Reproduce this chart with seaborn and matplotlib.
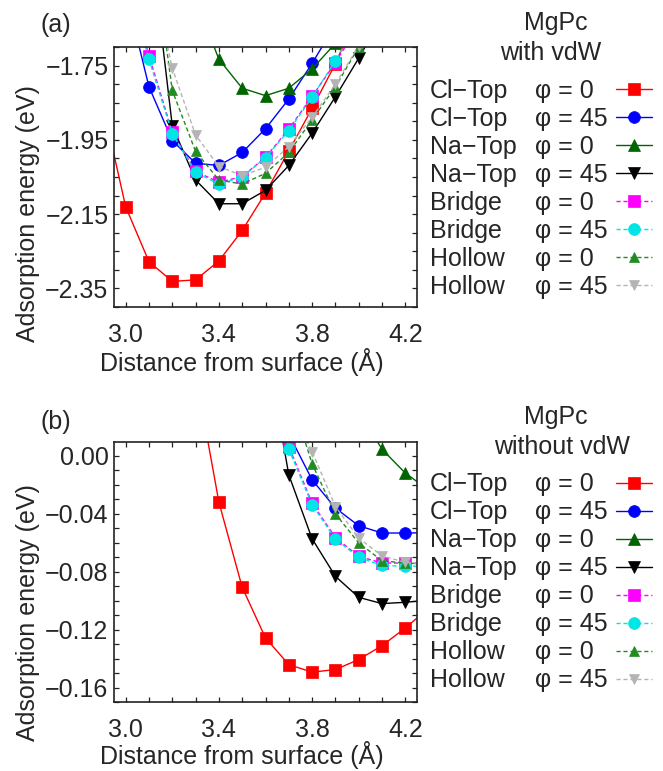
import numpy as np
import pandas as pd
import matplotlib
matplotlib.use("Agg")
import matplotlib.pyplot as plt
import seaborn as sns
from matplotlib.ticker import MultipleLocator, FuncFormatter
from matplotlib.lines import Line2D

sns.set_style("ticks")
plt.rcParams['font.family'] = ['Liberation Sans', 'DejaVu Sans']
plt.rcParams['axes.unicode_minus'] = True

# ---------------- data ----------------
sites = ["Cl\u2212Top", "Cl\u2212Top", "Na\u2212Top", "Na\u2212Top",
         "Bridge", "Bridge", "Hollow", "Hollow"]
phis = ["\u03c6 = 0", "\u03c6 = 45", "\u03c6 = 0", "\u03c6 = 45",
        "\u03c6 = 0", "\u03c6 = 45", "\u03c6 = 0", "\u03c6 = 45"]
x_ticks = [3.0, 3.4, 3.8, 4.2]
a_yticks = [-2.35, -2.15, -1.95, -1.75]
b_yticks = [-0.16, -0.12, -0.08, -0.04, 0.00]

# (a) with vdW
a_cltop0_x = [2.9, 3.0, 3.1, 3.2, 3.3, 3.4, 3.5, 3.6, 3.7, 3.8, 3.9, 4.0]
a_cltop0_y = [-1.85, -2.13, -2.278, -2.331, -2.327, -2.276, -2.194, -2.093, -1.980, -1.865, -1.745, -1.60]
a_cltop45_x = [3.0, 3.1, 3.2, 3.3, 3.4, 3.5, 3.6, 3.7, 3.8, 3.9]
a_cltop45_y = [-1.55, -1.807, -1.952, -2.013, -2.019, -1.984, -1.920, -1.840, -1.744, -1.64]
a_natop0_x = [3.3, 3.4, 3.5, 3.6, 3.7, 3.8, 3.9]
a_natop0_y = [-1.57, -1.733, -1.811, -1.831, -1.811, -1.759, -1.69]
a_natop45_x = [3.1, 3.2, 3.3, 3.4, 3.5, 3.6, 3.7, 3.8, 3.9, 4.0, 4.1]
a_natop45_y = [-1.38, -1.912, -2.058, -2.122, -2.122, -2.086, -2.019, -1.932, -1.834, -1.730, -1.62]
a_bridge0_x = [3.0, 3.1, 3.2, 3.3, 3.4, 3.5, 3.6, 3.7, 3.8, 3.9, 4.0]
a_bridge0_y = [-1.50, -1.723, -1.929, -2.035, -2.064, -2.049, -1.997, -1.921, -1.833, -1.742, -1.64]
a_bridge45_x = [3.0, 3.1, 3.2, 3.3, 3.4, 3.5, 3.6, 3.7, 3.8, 3.9, 4.0]
a_bridge45_y = [-1.51, -1.733, -1.934, -2.037, -2.069, -2.050, -1.998, -1.925, -1.835, -1.737, -1.63]
a_hollow0_x = [3.1, 3.2, 3.3, 3.4, 3.5, 3.6, 3.7, 3.8, 3.9, 4.0]
a_hollow0_y = [-1.35, -1.817, -1.981, -2.058, -2.069, -2.040, -1.984, -1.896, -1.807, -1.70]
a_hollow45_x = [3.1, 3.2, 3.3, 3.4, 3.5, 3.6, 3.7, 3.8, 3.9, 4.0]
a_hollow45_y = [-1.47, -1.757, -1.937, -2.022, -2.046, -2.024, -1.968, -1.889, -1.800, -1.697]

# (b) without vdW
b_cltop0_x = [3.3, 3.4, 3.5, 3.6, 3.7, 3.8, 3.9, 4.0, 4.1, 4.2, 4.3]
b_cltop0_y = [0.057, -0.0319, -0.0907, -0.1256, -0.144, -0.1492, -0.1474, -0.1405, -0.1309, -0.1187, -0.105]
b_cltop45_x = [3.7, 3.8, 3.9, 4.0, 4.1, 4.2, 4.3]
b_cltop45_y = [0.015, -0.0165, -0.036, -0.0482, -0.0532, -0.0532, -0.053]
b_natop0_x = [4.0, 4.1, 4.2, 4.3]
b_natop0_y = [0.031, 0.0046, -0.0119, -0.0235]
b_natop45_x = [3.6, 3.7, 3.8, 3.9, 4.0, 4.1, 4.2, 4.3]
b_natop45_y = [0.078, -0.0131, -0.0572, -0.0831, -0.0976, -0.1019, -0.1010, -0.0995]
b_bridge0_x = [3.6, 3.7, 3.8, 3.9, 4.0, 4.1, 4.2, 4.3]
b_bridge0_y = [0.07, 0.0064, -0.0326, -0.0563, -0.0693, -0.0739, -0.0739, -0.0739]
b_bridge45_x = [3.6, 3.7, 3.8, 3.9, 4.0, 4.1, 4.2, 4.3]
b_bridge45_y = [0.07, 0.0046, -0.0337, -0.0574, -0.070, -0.0755, -0.0762, -0.076]
b_hollow0_x = [3.7, 3.8, 3.9, 4.0, 4.1, 4.2, 4.3]
b_hollow0_y = [0.0455, -0.0055, -0.040, -0.0601, -0.0723, -0.074, -0.0745]
b_hollow45_x = [3.7, 3.8, 3.9, 4.0, 4.1, 4.2, 4.3]
b_hollow45_y = [0.037, 0.003, -0.035, -0.0567, -0.0689, -0.0735, -0.0745]

a_series = [(a_cltop0_x, a_cltop0_y), (a_cltop45_x, a_cltop45_y),
            (a_natop0_x, a_natop0_y), (a_natop45_x, a_natop45_y),
            (a_bridge0_x, a_bridge0_y), (a_bridge45_x, a_bridge45_y),
            (a_hollow0_x, a_hollow0_y), (a_hollow45_x, a_hollow45_y)]
b_series = [(b_cltop0_x, b_cltop0_y), (b_cltop45_x, b_cltop45_y),
            (b_natop0_x, b_natop0_y), (b_natop45_x, b_natop45_y),
            (b_bridge0_x, b_bridge0_y), (b_bridge45_x, b_bridge45_y),
            (b_hollow0_x, b_hollow0_y), (b_hollow45_x, b_hollow45_y)]

# ---------------- styles ----------------
colors = ["#ff0000", "#0000ff", "#006400", "#000000",
          "#ff00ff", "#00e5e5", "#228b22", "#b4b4b4"]
markers = ["s", "o", "^", "v", "s", "o", "^", "v"]
msizes = [8.5, 8.5, 8, 8, 8.5, 8.5, 7, 7]
lstyles = ["-", "-", "-", "-", (0, (3, 2)), (0, (3, 2)), (0, (3, 2)), (0, (3, 2))]
LW = 1.0
FS = 18
TFS = 18

W, H = 663, 771
fig = plt.figure(figsize=(W / 100, H / 100), dpi=100)


def fx(px):
    return px / W


def fy(py):
    return 1 - py / H


ax_a = fig.add_axes([fx(114), fy(307), fx(417) - fx(114), fy(47) - fy(307)])
ax_b = fig.add_axes([fx(114), fy(702.3), fx(417) - fx(114), fy(441.7) - fy(702.3)])

fmt = FuncFormatter(lambda v, p: f"{v:.2f}".replace("-", "\u2212") if abs(v) > 1e-9 else "0.00")
fmtx = FuncFormatter(lambda v, p: f"{v:.1f}")


def draw(ax, series, ylab_y, xlab_y):
    handles = []
    for i, (xs, ys) in enumerate(series):
        df = pd.DataFrame({"x": xs, "y": ys})
        sns.lineplot(data=df, x="x", y="y", ax=ax, sort=False, estimator=None,
                     color=colors[i], marker=markers[i], markersize=msizes[i],
                     markeredgewidth=0.5, markeredgecolor=colors[i],
                     linewidth=LW, linestyle=lstyles[i], legend=False)
        handles.append(Line2D([], [], color=colors[i], marker=markers[i],
                              markersize=msizes[i], markeredgewidth=0.5,
                              markeredgecolor=colors[i], linewidth=LW,
                              linestyle=lstyles[i]))
    ax.set_xlim(2.95, 4.25)
    ax.set_xticks(x_ticks)
    ax.xaxis.set_minor_locator(MultipleLocator(0.1))
    ax.xaxis.set_major_formatter(fmtx)
    ax.yaxis.set_major_formatter(fmt)
    ax.tick_params(which="both", direction="in", top=True, right=True,
                   length=3.8, width=0.9, labelsize=TFS, color="#222222")
    ax.tick_params(axis="y", which="both", pad=4)
    ax.tick_params(axis="x", which="both", pad=11.5)
    for s in ax.spines.values():
        s.set_linewidth(1.2)
        s.set_color("#222222")
    ax.set_xlabel("Distance from surface (\u00c5)", fontsize=FS)
    ax.set_ylabel("Adsorption energy (eV)", fontsize=FS)
    ax.xaxis.set_label_coords(0.422, xlab_y)
    ax.yaxis.set_label_coords(-0.243, ylab_y)
    return handles


ha = draw(ax_a, a_series, 0.358, -0.158)
ax_a.set_ylim(-2.40, -1.70)
ax_a.set_yticks(a_yticks)
ax_a.yaxis.set_minor_locator(MultipleLocator(0.05))

hb = draw(ax_b, b_series, 0.345, -0.15)
ax_b.set_ylim(-0.17, 0.0098)
ax_b.set_yticks(b_yticks)
ax_b.yaxis.set_minor_locator(MultipleLocator(0.01))

LS = 0.16


def legends(handles, top_px, title, title_y, title_x):
    top = fy(top_px)
    blank = [Line2D([], [], alpha=0) for _ in range(8)]
    common = dict(loc="upper left", bbox_transform=fig.transFigure, frameon=False,
                  fontsize=FS, labelspacing=LS, borderpad=0, borderaxespad=0)
    fig.legend(blank, sites, bbox_to_anchor=(fx(430), top),
               handlelength=0, handletextpad=0, **common)
    fig.legend(blank, phis, bbox_to_anchor=(fx(535), top),
               handlelength=0, handletextpad=0, **common)
    fig.legend(handles, [""] * 8, bbox_to_anchor=(fx(616), top),
               handlelength=36 / (FS * 100 / 72), handletextpad=0,
               markerfirst=False, **common)
    fig.text(fx(556), fy(title_y[0]), "MgPc", ha="center", va="center", fontsize=FS)
    fig.text(fx(title_x), fy(title_y[1]), title, ha="center", va="center", fontsize=FS)


legends(ha, 78.7, "with vdW", (23, 53), 551)
legends(hb, 472.4, "without vdW", (417, 447), 562)

fig.text(fx(56), fy(25), "(a)", ha="center", va="center", fontsize=FS)
fig.text(fx(56), fy(422), "(b)", ha="center", va="center", fontsize=FS)

fig.savefig("out.png", dpi=100)
